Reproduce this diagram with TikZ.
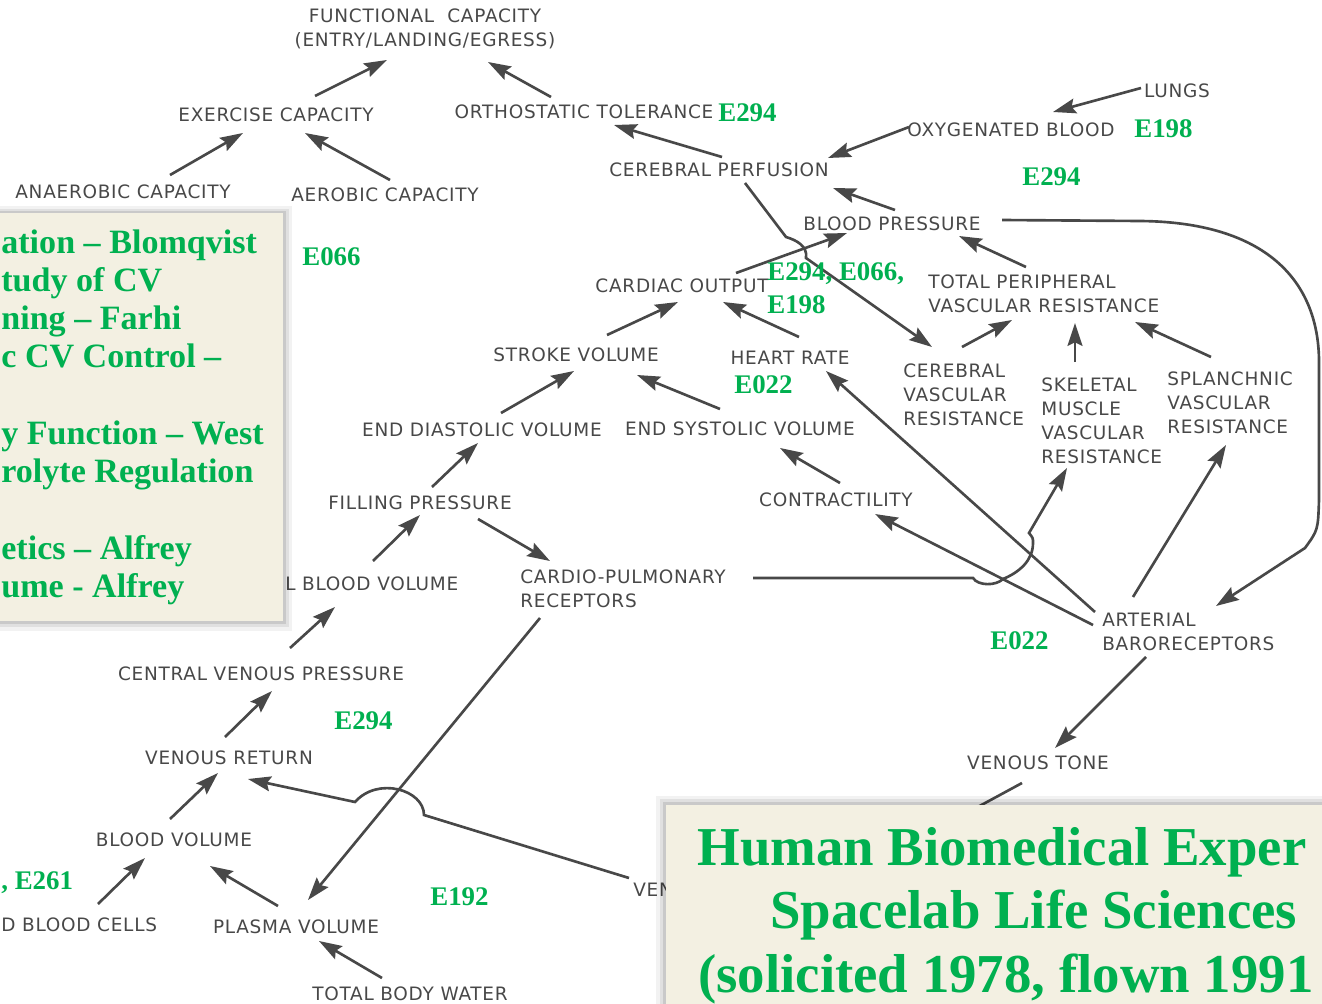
\documentclass[tikz,border=0pt]{standalone}
\usepackage{fontspec}
\setmainfont{Liberation Serif}
\newfontfamily\diagfont[LetterSpace=4]{DejaVu Sans}
\usetikzlibrary{arrows.meta}
\definecolor{ink}{RGB}{72,72,72}
\definecolor{labgreen}{RGB}{0,176,80}
\definecolor{boxfill}{RGB}{243,240,226}

\tikzset{
  lbl/.style={font=\diagfont\fontsize{10.5pt}{13.6pt}\selectfont, text=ink, inner sep=0pt, align=center},
  lbll/.style={lbl, align=left, anchor=west},
  arr/.style={draw=ink, line width=1.5pt, -{Stealth[length=13pt,width=8.5pt,inset=2pt]}},
  lnk/.style={draw=ink, line width=1.5pt},
  elab/.style={font=\bfseries\fontsize{15.3pt}{18.7pt}\selectfont, text=labgreen, inner sep=0pt, anchor=base west},
  boxtxt/.style={font=\bfseries\fontsize{19.4pt}{22pt}\selectfont, text=labgreen, inner sep=0pt, anchor=base west},
  titletxt/.style={font=\bfseries\fontsize{31.2pt}{36pt}\selectfont, text=labgreen, inner sep=0pt, anchor=base west},
}

\begin{document}
\begin{tikzpicture}[x=0.02cm, y=-0.02cm]
\useasboundingbox (0,0) rectangle (1322,1004);
\clip (0,0) rectangle (1322,1004);
\fill[white] (0,0) rectangle (1322,1004);

% diagram labels
\node[lbl] (fc) at (425,29) {FUNCTIONAL\ \ CAPACITY\\(ENTRY/LANDING/EGRESS)};
\node[lbl] (exc) at (276,115) {EXERCISE CAPACITY};
\node[lbl] (ort) at (584,112) {ORTHOSTATIC TOLERANCE};
\node[lbl] (ana) at (123,192) {ANAEROBIC CAPACITY};
\node[lbl] (aer) at (385,195) {AEROBIC CAPACITY};
\node[lbl] (cpf) at (719,170) {CEREBRAL PERFUSION};
\node[lbl] (oxb) at (1011,130) {OXYGENATED BLOOD};
\node[lbl] (lng) at (1177,91) {LUNGS};
\node[lbl] (bpr) at (892,224) {BLOOD PRESSURE};
\node[lbl] (cou) at (682,286) {CARDIAC OUTPUT};
\node[lbll] (tpr) at (928,294) {TOTAL PERIPHERAL\\VASCULAR RESISTANCE};
\node[lbl] (stv) at (576,355) {STROKE VOLUME};
\node[lbl] (hrt) at (790,358) {HEART RATE};
\node[lbll] (cvr) at (903,395) {CEREBRAL\\VASCULAR\\RESISTANCE};
\node[lbll] (smr) at (1041,420.5) {SKELETAL\\MUSCLE\\VASCULAR\\RESISTANCE};
\node[lbll] (spr) at (1167,403) {SPLANCHNIC\\VASCULAR\\RESISTANCE};
\node[lbl] (edv) at (482,430) {END DIASTOLIC VOLUME};
\node[lbl] (esv) at (740,429) {END SYSTOLIC VOLUME};
\node[lbl] (fpr) at (420,503) {FILLING PRESSURE};
\node[lbl] (ctr) at (836,500) {CONTRACTILITY};
\node[lbll] (cbv) at (285,584) {L BLOOD VOLUME};
\node[lbll] (cpr) at (520,589) {CARDIO-PULMONARY\\RECEPTORS};
\node[lbll] (abr) at (1102,632) {ARTERIAL\\BARORECEPTORS};
\node[lbl] (cvp) at (261,674) {CENTRAL VENOUS PRESSURE};
\node[lbl] (vre) at (229,758) {VENOUS RETURN};
\node[lbl] (vto) at (1038,763) {VENOUS TONE};
\node[lbl] (blv) at (174,840) {BLOOD VOLUME};
\node[lbll] (rbc) at (1,925) {D BLOOD CELLS};
\node[lbl] (plv) at (296,927) {PLASMA VOLUME};
\node[lbl] (tbw) at (410,994) {TOTAL BODY WATER};
\node[lbll] (ven) at (633,890) {VEN};
\coordinate (vtend) at (880,860);

% arrows
\draw[arr] ([shift={(39,-19)}]exc.center) -- ([shift={(-38,31)}]fc.center);
\draw[arr] ([shift={(-33,-15)}]ort.center) -- ([shift={(63,33)}]fc.center);
\draw[arr] ([shift={(47,-17)}]ana.center) -- ([shift={(-33,18)}]exc.center);
\draw[arr] ([shift={(5,-15)}]aer.center) -- ([shift={(29,18)}]exc.center);
\draw[arr] ([shift={(3,-13)}]cpf.center) -- ([shift={(30,13)}]ort.center);
\draw[arr] ([shift={(-102,-3)}]oxb.center) -- ([shift={(109,-12)}]cpf.center);
\draw[arr] ([shift={(-36,-3)}]lng.center) -- ([shift={(42,-18)}]oxb.center);
\draw[arr] ([shift={(3,-14)}]bpr.center) -- ([shift={(114,18)}]cpf.center);
\draw[arr] ([shift={(54,-13)}]cou.center) -- ([shift={(-45,9)}]bpr.center);
\draw[arr] ([shift={(26,13)}]cpf.center) -- (786,237)
  .. controls (796,240) and (808,246) .. (806,258) -- ([shift={(29,-48)}]cvr.west);
\draw[arr] ([shift={(98,-27)}]tpr.west) -- ([shift={(67,12)}]bpr.center);
\draw[arr] ([shift={(110,-4)}]bpr.center) -- (1140,221)
  .. controls (1265,222) and (1318,280) .. (1319,360) -- (1319,500)
  .. controls (1318,530) .. (1305,548) -- ([shift={(114,-26)}]abr.west);
\draw[arr] ([shift={(59,-48)}]cvr.west) -- ([shift={(84,26)}]tpr.west);
\draw[arr] ([shift={(34,-58.5)}]smr.west) -- ([shift={(147,29)}]tpr.west);
\draw[arr] ([shift={(44,-46)}]spr.west) -- ([shift={(207,28)}]tpr.west);
\draw[arr] ([shift={(31,-20)}]stv.center) -- ([shift={(-4,16)}]cou.center);
\draw[arr] ([shift={(9,-21)}]hrt.center) -- ([shift={(41,16)}]cou.center);
\draw[arr] ([shift={(19,-17)}]edv.center) -- ([shift={(-2,16)}]stv.center);
\draw[arr] ([shift={(-20,-20)}]esv.center) -- ([shift={(61,20)}]stv.center);
\draw[arr] ([shift={(12,-16)}]fpr.center) -- ([shift={(-4,13)}]edv.center);
\draw[arr] ([shift={(4,-17)}]ctr.center) -- ([shift={(40,19)}]esv.center);
\draw[arr] ([shift={(58,16)}]fpr.center) -- ([shift={(30,-28)}]cpr.west);
\draw[arr] ([shift={(88,-23)}]cbv.west) -- ([shift={(0,12)}]fpr.center);
\draw[arr] ([shift={(233,-11)}]cpr.west) -- (973,578)
  .. controls (978,586) and (996,586) .. (1003,579)
  .. controls (1020,572) and (1033,560) .. (1033,543)
  .. controls (1033,538) .. (1029,533) -- ([shift={(26,47.5)}]smr.west);
\draw[arr] ([shift={(-9,-7)}]abr.west) -- ([shift={(39,14)}]ctr.center);
\draw[arr] ([shift={(-7,-20)}]abr.west) -- ([shift={(36,13)}]hrt.center);
\draw[arr] ([shift={(31,-35)}]abr.west) -- ([shift={(59,42)}]spr.west);
\draw[arr] ([shift={(44,25)}]abr.west) -- ([shift={(17,-15)}]vto.center);
\draw[lnk] ([shift={(-16,20)}]vto.center) -- (vtend);
\draw[arr] ([shift={(20,29)}]cpr.west) -- ([shift={(12,-27)}]plv.center);
\draw[arr] ([shift={(-4,-12)}]ven.west) -- (424,815)
  .. controls (424,790) and (378,776) .. (355,802) -- ([shift={(19,21)}]vre.center);
\draw[arr] ([shift={(-4,-21)}]vre.center) -- ([shift={(11,17)}]cvp.center);
\draw[arr] ([shift={(29,-26)}]cvp.center) -- ([shift={(50,23)}]cbv.west);
\draw[arr] ([shift={(-4,-21)}]blv.center) -- ([shift={(-11,15)}]vre.center);
\draw[arr] ([shift={(97,-21)}]rbc.west) -- ([shift={(-29,18)}]blv.center);
\draw[arr] ([shift={(-18,-21)}]plv.center) -- ([shift={(36,26)}]blv.center);
\draw[arr] ([shift={(-28,-16)}]tbw.center) -- ([shift={(23,14)}]plv.center);

% experiment numbers
\node[elab] (e1) at (718,121.5) {E294};
\node[elab] (e2) at (1134,137.5) {E198};
\node[elab] (e3) at (1022,185.5) {E294};
\node[elab] (e4) at (302,265.5) {E066};
\node[elab] (e5) at (767,280.5) {E294, E066,};
\node[elab] (e6) at (767,313.5) {E198};
\node[elab] (e7) at (734,393.5) {E022};
\node[elab] (e8) at (990,649.5) {E022};
\node[elab] (e9) at (334,729.5) {E294};
\node[elab] (e10) at (430,905.5) {E192};
\node[elab] (e11) at (1,889.5) {, E261};

% left box
\fill[black, opacity=0.05] (-10,206) rectangle (292,631);
\fill[black, opacity=0.07] (-10,209) rectangle (289,627);
\fill[black, opacity=0.10] (-10,211) rectangle (286,624);
\fill[boxfill] (-10,213) rectangle (283,621);
\node[boxtxt] (b1) at (1,253) {ation – Blomqvist};
\node[boxtxt] (b2) at (1,291) {tudy of CV};
\node[boxtxt] (b3) at (1,329) {ning – Farhi};
\node[boxtxt] (b4) at (1,367) {c CV Control –};
\node[boxtxt] (b5) at (1,444) {y Function – West};
\node[boxtxt] (b6) at (1,482) {rolyte Regulation};
\node[boxtxt] (b7) at (1,559) {etics – Alfrey};
\node[boxtxt] (b8) at (1,597) {ume - Alfrey};

% bottom box
\fill[black, opacity=0.05] (656,796) rectangle (1330,1010);
\fill[black, opacity=0.07] (660,799) rectangle (1330,1010);
\fill[black, opacity=0.10] (663,802) rectangle (1330,1010);
\fill[boxfill] (666,805) rectangle (1330,1010);
\node[titletxt] (t1) at (697,865) {Human Biomedical Exper};
\node[titletxt] (t2) at (770,928) {Spacelab Life Sciences};
\node[titletxt] (t3) at (698,992) {(solicited 1978, flown 1991};
\end{tikzpicture}
\end{document}
